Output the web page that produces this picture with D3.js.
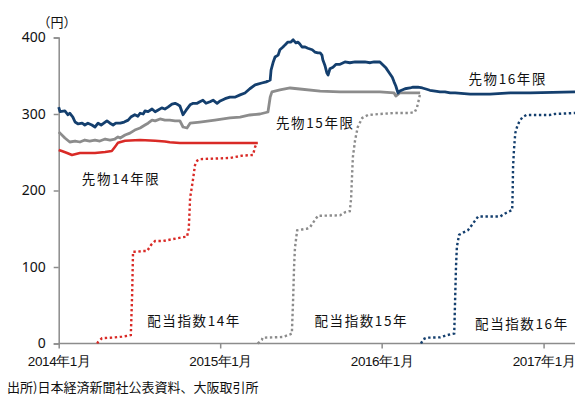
<!DOCTYPE html>
<html>
<head>
<meta charset="utf-8">
<script src="https://cdn.jsdelivr.net/npm/d3@7"></script>
<style>
  html, body { margin: 0; padding: 0; background: #fff; }
  svg { display: block; font-family: "Noto Sans CJK JP", "Noto Sans", sans-serif; }
</style>
</head>
<body>
<svg id="chart" width="575" height="396"></svg>
<script>
// Axis ticks
const yTicks = [0, 100, 200, 300, 400];
const xTicks = ["2014-01-01", "2015-01-01", "2016-01-01", "2017-01-01"];
const xTickLabels = ["2014年1月", "2015年1月", "2016年1月", "2017年1月"];

// 先物14年限 (円)
const fut14 = [
  ["2014-01-01",253],["2014-01-08",251.6],["2014-01-20",249],["2014-01-31",246.4],["2014-02-18",249],
  ["2014-03-24",249],["2014-04-16",250.3],["2014-05-01",251.6],["2014-05-08",257],["2014-05-15",262.5],
  ["2014-05-31",265],["2014-07-04",266],["2014-08-07",265],["2014-08-29",264],["2014-09-09",263],
  ["2014-10-02",262.1],["2015-03-27",262.1]
];

// 先物15年限 (円)
const fut15 = [
  ["2014-01-01",276.5],["2014-01-04",275],["2014-01-15",268.6],["2014-01-26",263.4],["2014-02-07",264.7],
  ["2014-02-18",263.4],["2014-03-01",266],["2014-03-12",264.7],["2014-03-24",266],["2014-04-04",264.7],
  ["2014-04-16",267.3],["2014-04-27",266],["2014-05-08",267.3],["2014-05-15",270],["2014-05-20",268.6],
  ["2014-05-31",272.5],["2014-06-11",275],["2014-06-22",279],["2014-07-04",281.7],["2014-07-15",285.6],
  ["2014-07-22",288],["2014-07-31",292],["2014-08-07",291],["2014-08-18",293.5],["2014-08-29",292],
  ["2014-09-09",292],["2014-09-21",291],["2014-10-02",291],["2014-10-09",283],["2014-10-18",281.7],
  ["2014-10-25",288],["2014-11-16",289.5],["2014-12-20",292],["2015-01-23",294.8],["2015-02-15",296],
  ["2015-03-09",298.7],["2015-04-01",300],["2015-04-19",302.6],["2015-04-24",322],["2015-04-28",329],
  ["2015-05-16",331.4],["2015-06-08",334],["2015-06-30",332.7],["2015-08-15",330],["2015-09-29",329],
  ["2015-11-13",329],["2015-12-28",329],["2016-01-29",327.5],["2016-02-02",323.5],["2016-02-11",327.5],
  ["2016-03-28",327.5]
];

// 先物16年限 (円)
const fut16 = [
  ["2014-01-01",309],["2014-01-04",303],["2014-01-15",304],["2014-01-22",299],["2014-01-26",301],
  ["2014-02-02",296],["2014-02-07",289.5],["2014-02-14",287],["2014-02-23",288],["2014-03-01",285.6],
  ["2014-03-08",288],["2014-03-17",285.6],["2014-03-24",283],["2014-03-31",288],["2014-04-07",285.6],
  ["2014-04-13",288],["2014-04-20",291],["2014-04-27",288],["2014-05-04",285.6],["2014-05-10",288],
  ["2014-05-20",288],["2014-05-29",289.5],["2014-06-07",292],["2014-06-13",296],["2014-06-22",299],
  ["2014-06-29",297],["2014-07-04",301],["2014-07-11",300],["2014-07-15",304],["2014-07-22",303],
  ["2014-07-31",306.5],["2014-08-07",303],["2014-08-13",305],["2014-08-22",308],["2014-08-29",306.5],
  ["2014-09-05",309],["2014-09-14",313],["2014-09-21",314],["2014-09-28",312],["2014-10-02",310.5],
  ["2014-10-09",299],["2014-10-16",305],["2014-10-25",312],["2014-11-01",314],["2014-11-10",314],
  ["2014-11-16",316],["2014-11-23",318],["2014-11-30",314],["2014-12-09",316],["2014-12-16",318],
  ["2014-12-25",314],["2015-01-01",317],["2015-01-12",320],["2015-01-23",322],["2015-02-03",322],
  ["2015-02-15",325],["2015-02-26",327.5],["2015-03-09",333],["2015-03-21",338],["2015-03-27",339],
  ["2015-04-05",340.5],["2015-04-15",342],["2015-04-24",344.4],["2015-04-26",357.5],["2015-05-01",368],
  ["2015-05-05",374.5],["2015-05-12",377],["2015-05-16",384],["2015-05-23",387.6],["2015-05-27",390],
  ["2015-06-03",394],["2015-06-10",394],["2015-06-15",397],["2015-06-21",393],["2015-06-26",394],
  ["2015-06-30",391.5],["2015-07-05",387.6],["2015-07-12",387.6],["2015-07-18",386],["2015-07-23",385],
  ["2015-07-28",384],["2015-08-03",381],["2015-08-10",380],["2015-08-15",380],["2015-08-19",377],
  ["2015-08-21",371],["2015-08-26",363],["2015-08-30",354],["2015-09-02",351],["2015-09-06",359],
  ["2015-09-13",361],["2015-09-20",365],["2015-09-29",365],["2015-10-10",368],["2015-10-21",367],
  ["2015-11-02",368],["2015-11-13",368],["2015-11-24",368],["2015-12-06",367],["2015-12-15",368],
  ["2015-12-24",368],["2015-12-28",368],["2016-01-04",364],["2016-01-11",360],["2016-01-18",354],
  ["2016-01-25",348],["2016-01-29",342],["2016-02-02",336.6],["2016-02-05",331],["2016-02-07",327.5],
  ["2016-02-11",330],["2016-02-23",333],["2016-03-05",334],["2016-03-12",335],["2016-03-23",335],
  ["2016-04-02",334],["2016-04-10",332.7],["2016-04-19",331],["2016-05-01",330],["2016-05-12",329],
  ["2016-05-23",329],["2016-06-04",327.5],["2016-06-15",327.5],["2016-07-19",326],["2016-09-02",326],
  ["2016-10-17",327.5],["2016-12-02",327.5],["2017-03-13",328.8]
];

// 配当指数14年
const div14 = [
  ["2014-03-29",0],["2014-03-31",2],["2014-04-09",7],["2014-04-27",7.5],["2014-05-08",8],
  ["2014-05-24",9],["2014-06-05",10],["2014-06-13",11],["2014-06-16",65],["2014-06-18",120],
  ["2014-06-29",120],["2014-07-11",121],["2014-07-20",121],["2014-07-29",129],["2014-08-07",134],
  ["2014-08-25",134],["2014-09-17",136.6],["2014-10-09",139],["2014-10-18",139.6],["2014-10-22",150],
  ["2014-10-25",190],["2014-11-01",216],["2014-11-05",233],["2014-11-10",239],["2014-11-16",241],
  ["2015-01-23",242.5],["2015-02-19",245.5],["2015-03-16",246.4],["2015-03-21",257],["2015-03-25",262]
];

// 配当指数15年
const div15 = [
  ["2015-03-27",0],["2015-04-05",4.6],["2015-04-07",7.6],["2015-05-23",8.5],["2015-06-08",12],
  ["2015-06-12",13],["2015-06-15",60],["2015-06-17",100],["2015-06-19",125],["2015-06-24",148],
  ["2015-07-05",149],["2015-07-16",150],["2015-07-23",152],["2015-07-30",158],["2015-08-10",167],
  ["2015-09-29",167.5],["2015-10-10",171.5],["2015-10-21",173],["2015-10-24",190],["2015-10-26",218],
  ["2015-10-28",244],["2015-11-02",266],["2015-11-08",283],["2015-11-18",294.8],["2015-12-01",298.7],
  ["2015-12-28",300],["2016-01-31",301.3],["2016-03-05",301.3],["2016-03-16",302.6],["2016-03-21",309],
  ["2016-03-26",321],["2016-03-28",327.5]
];

// 配当指数16年
const div16 = [
  ["2016-03-30",0],["2016-04-04",5.5],["2016-04-12",7.6],["2016-05-12",8],["2016-05-23",10],
  ["2016-06-04",12],["2016-06-13",13],["2016-06-15",57],["2016-06-17",100],["2016-06-19",126.5],
  ["2016-06-24",142],["2016-07-03",145],["2016-07-14",148],["2016-07-23",155],["2016-07-30",160.5],
  ["2016-08-06",166],["2016-09-25",166],["2016-10-06",170],["2016-10-22",174.5],["2016-10-23",196],
  ["2016-10-24",231],["2016-10-26",253],["2016-10-29",275],["2016-11-02",283],["2016-11-07",290],
  ["2016-11-14",295.7],["2016-11-23",298.7],["2017-01-15",298.7],["2017-01-26",300],["2017-03-13",301.3]
];

const parse = d3.utcParse("%Y-%m-%d");
const svg = d3.select("#chart");

const x = d3.scaleUtc()
  .domain([parse("2014-01-01"), parse("2017-03-13")])
  .range([58.7, 575]);
const y = d3.scaleLinear().domain([0, 400]).range([343.5, 37.5]);

const axisColor = "#8c8c8c";
const textColor = "#111";

// y axis
const gy = svg.append("g").attr("transform", `translate(${x.range()[0]},0)`)
  .call(d3.axisLeft(y).tickValues(yTicks).tickSize(5).tickPadding(8));
gy.select(".domain").attr("stroke", axisColor).attr("stroke-width", 1.5);
gy.selectAll(".tick line").attr("stroke", axisColor).attr("stroke-width", 1.5);
gy.selectAll(".tick text").attr("fill", textColor)
  .style("font-size", "14px").style("font-family", "'Noto Sans', sans-serif");

// x axis
const gx = svg.append("g").attr("transform", `translate(0,${y(0)})`)
  .call(d3.axisBottom(x).tickValues(xTicks.map(parse)).tickSize(5).tickPadding(8)
    .tickFormat((d, i) => xTickLabels[i]));
gx.select(".domain").attr("stroke", axisColor).attr("stroke-width", 1.5)
  .attr("d", `M${x.range()[0]},0H${x.range()[1]}`);
gx.selectAll(".tick line").attr("stroke", axisColor).attr("stroke-width", 1.5);
gx.selectAll(".tick text").attr("fill", textColor)
  .style("font-size", "13.5px").style("letter-spacing", "-0.4px");

// unit label
svg.append("text").attr("x", 57).attr("y", 21).attr("text-anchor", "middle")
  .attr("dominant-baseline", "central").attr("fill", textColor)
  .style("font-size", "13px").text("（円）");

const line = d3.line().x(d => x(parse(d[0]))).y(d => y(d[1]));

const dotted = [
  { data: div14, color: "#d92a26" },
  { data: div15, color: "#8c8c8c" },
  { data: div16, color: "#143f6e" }
];
dotted.forEach(s => {
  svg.append("path").datum(s.data).attr("d", line)
    .attr("fill", "none").attr("stroke", s.color)
    .attr("stroke-width", 2.4).attr("stroke-dasharray", "2.4,2.6");
});

const solid = [
  { data: fut14, color: "#d92a26", w: 2.5 },
  { data: fut15, color: "#8c8c8c", w: 2.8 },
  { data: fut16, color: "#143f6e", w: 2.8 }
];
solid.forEach(s => {
  svg.append("path").datum(s.data).attr("d", line)
    .attr("fill", "none").attr("stroke", s.color)
    .attr("stroke-width", s.w).attr("stroke-linejoin", "round");
});

// series labels, anchored in data space
const seriesLabels = [
  { text: "先物16年限", date: "2016-10-12", value: 347 },
  { text: "先物15年限", date: "2015-08-04", value: 290 },
  { text: "先物14年限", date: "2014-05-22", value: 216 },
  { text: "配当指数14年", date: "2014-11-03", value: 31 },
  { text: "配当指数15年", date: "2015-11-16", value: 31 },
  { text: "配当指数16年", date: "2016-11-13", value: 27 }
];
svg.append("g").selectAll("text").data(seriesLabels).join("text")
  .attr("x", d => x(parse(d.date))).attr("y", d => y(d.value))
  .attr("text-anchor", "middle").attr("dominant-baseline", "central")
  .attr("fill", textColor).style("font-size", "13.5px")
  .style("letter-spacing", "1.6px")
  .text(d => d.text);

// source note
svg.append("text").attr("x", 7).attr("y", 386).attr("dominant-baseline", "central")
  .attr("fill", textColor).style("font-size", "13px")
  .text("出所)日本経済新聞社公表資料、大阪取引所");
</script>
</body>
</html>
